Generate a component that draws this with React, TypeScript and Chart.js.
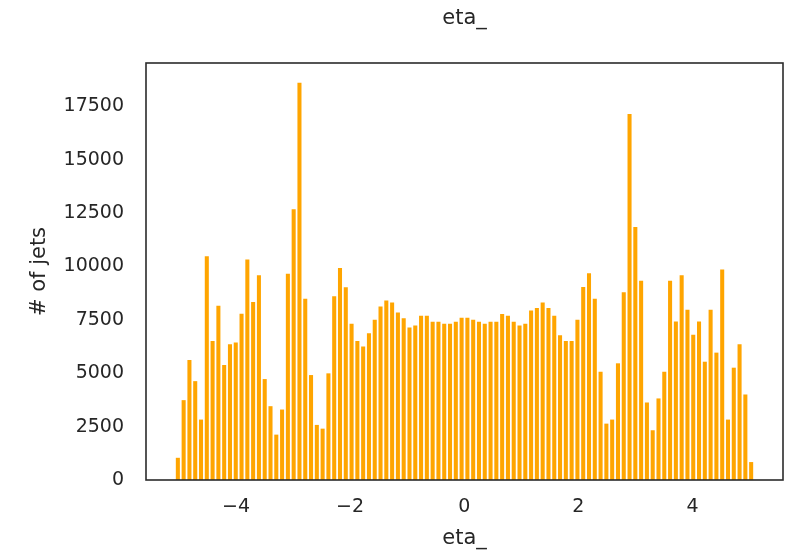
import React, { useEffect, useRef } from "react";
import { Chart, registerables } from "chart.js";

Chart.register(...registerables);

// Histogram of eta_: 100 bins
const binStart = -5.07;
const binWidth = 0.1015;
const counts = [
  1040, 3740, 5620, 4630, 2830, 10480, 6515, 8160, 5385, 6360,
  6435, 7785, 10325, 8335, 9590, 4727, 3457, 2125, 3300, 9665,
  12675, 18600, 8490, 4915, 2580, 2405, 4995, 8600, 9930, 9025,
  7315, 6515, 6250, 6875, 7500, 8130, 8410, 8315, 7845, 7580,
  7140, 7235, 7690, 7690, 7410, 7410, 7315, 7315, 7410, 7595,
  7595, 7500, 7410, 7315, 7410, 7410, 7770, 7690, 7410, 7235,
  7315, 7940, 8050, 8315, 8050, 7690, 6780, 6515, 6515, 7500,
  9040, 9680, 8490, 5070, 2640, 2830, 5465, 8790, 17145, 11845,
  9335, 3630, 2330, 3820, 5070, 9335, 7425, 9590, 7975, 6800,
  7425, 5540, 7975, 5965, 9855, 2830, 5260, 6360, 4005, 840,
];
const xTicks = [-4, -2, 0, 2, 4];
const yTicks = [0, 2500, 5000, 7500, 10000, 12500, 15000, 17500];
const titleText = "eta_";
const xLabel = "eta_";
const yLabel = "# of jets";

const FONT = "'DejaVu Sans', sans-serif";
const TEXT = "#262626";

export default function App() {
  const ref = useRef<HTMLCanvasElement | null>(null);

  useEffect(() => {
    if (!ref.current) return;
    const data = counts.map((c, i) => ({ x: binStart + binWidth * (i + 0.5), y: c }));
    const dataMin = binStart;
    const dataMax = binStart + binWidth * counts.length;
    const span = dataMax - dataMin;
    const xMin = dataMin - 0.05 * span;
    const xMax = dataMax + 0.05 * span;
    const yMax = Math.max(...counts) * 1.05;

    const framePlugin = {
      id: "frameAndTitle",
      afterDraw(chart: any) {
        const { ctx, chartArea } = chart;
        ctx.save();
        ctx.strokeStyle = "#2b2b2b";
        ctx.lineWidth = 1.6;
        ctx.strokeRect(chartArea.left, chartArea.top, chartArea.right - chartArea.left, chartArea.bottom - chartArea.top);
        ctx.fillStyle = TEXT;
        ctx.font = `21px ${FONT}`;
        ctx.textAlign = "center";
        ctx.textBaseline = "middle";
        ctx.fillText(titleText, (chartArea.left + chartArea.right) / 2, 19);
        ctx.restore();
      },
    };

    const chart = new Chart(ref.current, {
      type: "bar",
      data: {
        datasets: [
          {
            data,
            backgroundColor: "#FFA500",
            borderWidth: 0,
            barPercentage: 0.7,
            categoryPercentage: 1,
          },
        ],
      },
      options: {
        animation: false,
        responsive: false,
        devicePixelRatio: 1,
        layout: { padding: { top: 63, right: 2, bottom: 0, left: 0 } },
        plugins: { legend: { display: false }, tooltip: { enabled: false }, title: { display: false } },
        scales: {
          x: {
            type: "linear",
            min: xMin,
            max: xMax,
            offset: false,
            grid: { display: false, drawTicks: false },
            border: { display: false },
            afterBuildTicks: (scale: any) => {
              scale.ticks = xTicks.map((v) => ({ value: v }));
            },
            afterFit: (scale: any) => {
              scale.height = 73;
            },
            ticks: {
              padding: 16,
              color: TEXT,
              font: { family: FONT, size: 19 },
              maxRotation: 0,
              callback: (v: any) => (Number(v) < 0 ? "\u2212" + Math.abs(Number(v)) : String(v)),
            },
            title: {
              display: true,
              text: xLabel,
              color: TEXT,
              font: { family: FONT, size: 21 },
              padding: { top: 0, bottom: 2 },
            },
          },
          y: {
            type: "linear",
            min: 0,
            max: yMax,
            grid: { display: false, drawTicks: false },
            border: { display: false },
            afterBuildTicks: (scale: any) => {
              scale.ticks = yTicks.map((v) => ({ value: v }));
            },
            afterFit: (scale: any) => {
              scale.width = 146;
            },
            ticks: {
              padding: 22,
              color: TEXT,
              font: { family: FONT, size: 19 },
              callback: (v: any) => String(v),
            },
            title: {
              display: true,
              text: yLabel,
              color: TEXT,
              font: { family: FONT, size: 21 },
              padding: { top: 27, bottom: 0 },
            },
          },
        },
      },
      plugins: [framePlugin],
    } as any);

    return () => chart.destroy();
  }, []);

  return (
    <div style={{ position: "fixed", left: 0, top: 0, width: 785, height: 553, background: "#ffffff" }}>
      <canvas ref={ref} width={785} height={553} style={{ width: 785, height: 553 }} />
    </div>
  );
}
